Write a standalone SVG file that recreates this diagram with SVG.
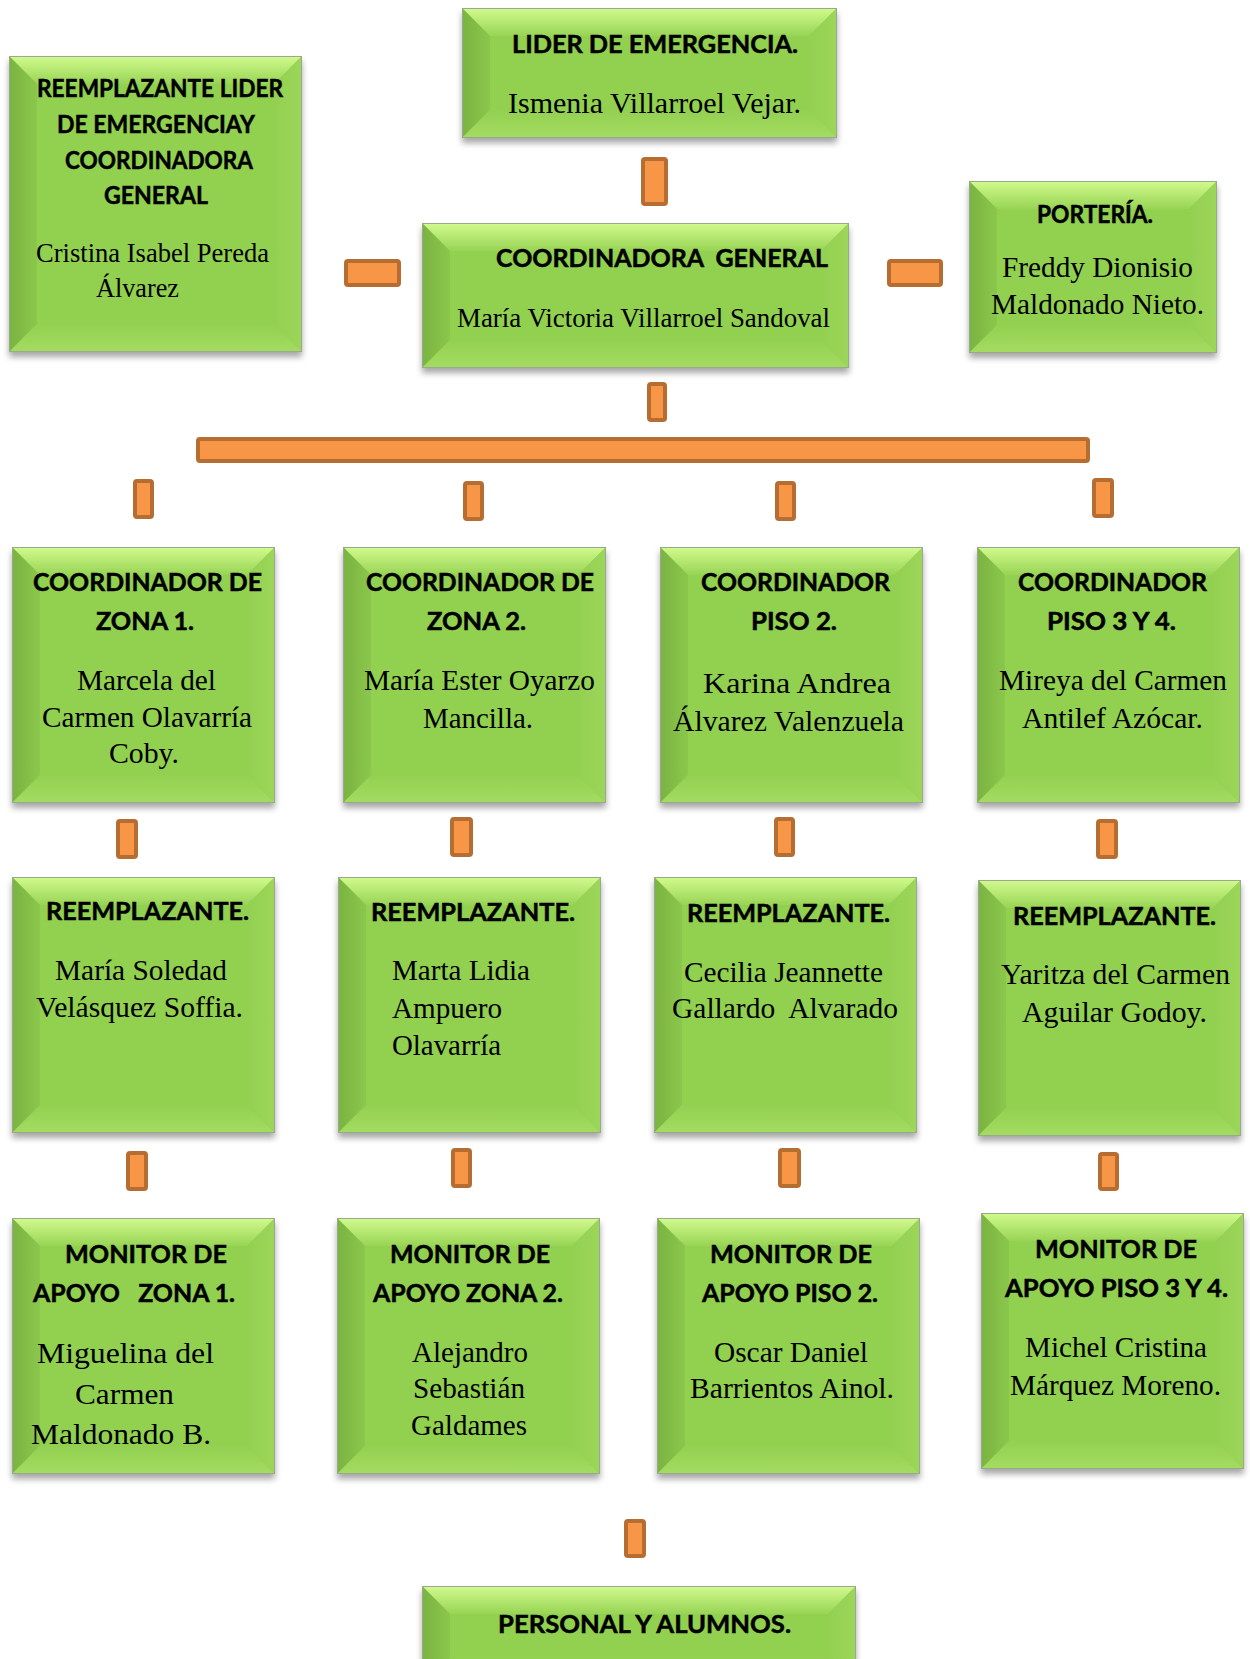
<svg xmlns="http://www.w3.org/2000/svg" xmlns:xlink="http://www.w3.org/1999/xlink" width="1250" height="1659" viewBox="0 0 1250 1659">
<style>
.base{fill:#92D050;}
.bt{fill:url(#gTop);}
.bl{fill:url(#gLeft);}
.bb{fill:url(#gBottom);}
.br{fill:url(#gRight);}
.edge{fill:none;stroke:#9AA890;stroke-width:1;}
.h{font-family:Lato,"Open Sans","Liberation Sans",sans-serif;font-weight:bold;font-size:25.5px;fill:#000;stroke:#000;stroke-width:0.5;}
.n{font-family:"Liberation Serif","Times New Roman",serif;font-size:28.6px;fill:#000;}
.s{font-size:26.5px;}
.l{font-size:30px;}
.c rect{fill:#F79646;stroke:#B66D31;stroke-width:4;}
</style>
<defs>
<linearGradient id="gTop" x1="0" y1="0" x2="0" y2="1"><stop offset="0" stop-color="#D2FB8E"/><stop offset="1" stop-color="#98D455"/></linearGradient>
<linearGradient id="gLeft" x1="0" y1="0" x2="1" y2="0"><stop offset="0" stop-color="#7AB341"/><stop offset="1" stop-color="#8BC74C"/></linearGradient>
<linearGradient id="gBottom" x1="0" y1="0" x2="0" y2="1"><stop offset="0" stop-color="#93D051"/><stop offset="1" stop-color="#A3DC61"/></linearGradient>
<linearGradient id="gRight" x1="0" y1="0" x2="1" y2="0"><stop offset="0" stop-color="#93D051"/><stop offset="1" stop-color="#9CD65A"/></linearGradient>
<filter id="sh" x="-10%" y="-10%" width="120%" height="130%"><feDropShadow dx="0" dy="5" stdDeviation="3" flood-color="#000" flood-opacity="0.35"/></filter>
<g id="boxA">
<rect class="base" width="263" height="256" filter="url(#sh)"/>
<polygon class="bt" points="0,0 263,0 235,28 28,28"/>
<polygon class="bl" points="0,0 28,28 28,228 0,256"/>
<polygon class="bb" points="0,256 28,228 235,228 263,256"/>
<polygon class="br" points="263,0 263,256 235,228 235,28"/>
<rect class="edge" x="0.5" y="0.5" width="262" height="255"/>
</g>
</defs>
<rect width="1250" height="1659" fill="#fff"/>

<g id="connectors" class="c">
<rect x="643" y="159" width="23" height="45" rx="2"/>
<rect x="346" y="261" width="53" height="24" rx="2"/>
<rect x="889" y="261" width="52" height="24" rx="2"/>
<rect x="649" y="384" width="16" height="36" rx="2"/>
<rect x="198" y="439" width="890" height="22" rx="2"/>
<rect x="135" y="481" width="17" height="36" rx="2"/>
<rect x="465" y="483" width="17" height="36" rx="2"/>
<rect x="777" y="483" width="17" height="36" rx="2"/>
<rect x="1094" y="480" width="18" height="36" rx="2"/>
<rect x="118" y="821" width="18" height="36" rx="2"/>
<rect x="452" y="819" width="19" height="36" rx="2"/>
<rect x="776" y="819" width="17" height="36" rx="2"/>
<rect x="1098" y="821" width="18" height="36" rx="2"/>
<rect x="128" y="1153" width="18" height="36" rx="2"/>
<rect x="453" y="1150" width="17" height="36" rx="2"/>
<rect x="780" y="1150" width="19" height="36" rx="2"/>
<rect x="1100" y="1154" width="17" height="35" rx="2"/>
<rect x="626" y="1521" width="18" height="35" rx="2"/>
</g>

<g id="n-reemplazante-lider">
<g transform="translate(9,56)">
<rect class="base" width="293" height="296" filter="url(#sh)"/>
<polygon class="bt" points="0,0 293,0 265,28 28,28"/>
<polygon class="bl" points="0,0 28,28 28,268 0,296"/>
<polygon class="bb" points="0,296 28,268 265,268 293,296"/>
<polygon class="br" points="293,0 293,296 265,268 265,28"/>
<rect class="edge" x="0.5" y="0.5" width="292" height="295"/>
</g>
<text class="h" x="37" y="97" textLength="246" lengthAdjust="spacingAndGlyphs">REEMPLAZANTE LIDER</text>
<text class="h" x="57" y="133" textLength="198" lengthAdjust="spacingAndGlyphs">DE EMERGENCIAY</text>
<text class="h" x="65" y="169" textLength="188" lengthAdjust="spacingAndGlyphs">COORDINADORA</text>
<text class="h" x="104" y="204" textLength="104" lengthAdjust="spacingAndGlyphs">GENERAL</text>
<text class="n s" x="36" y="262" textLength="233" lengthAdjust="spacingAndGlyphs">Cristina Isabel Pereda</text>
<text class="n s" x="96" y="297" textLength="83" lengthAdjust="spacingAndGlyphs">Álvarez</text>
</g>

<g id="n-lider">
<g transform="translate(462,8)">
<rect class="base" width="375" height="130" filter="url(#sh)"/>
<polygon class="bt" points="0,0 375,0 347,28 28,28"/>
<polygon class="bl" points="0,0 28,28 28,102 0,130"/>
<polygon class="bb" points="0,130 28,102 347,102 375,130"/>
<polygon class="br" points="375,0 375,130 347,102 347,28"/>
<rect class="edge" x="0.5" y="0.5" width="374" height="129"/>
</g>
<text class="h" x="512" y="53" textLength="286" lengthAdjust="spacingAndGlyphs">LIDER DE EMERGENCIA.</text>
<text class="n" x="508" y="113" textLength="293" lengthAdjust="spacingAndGlyphs">Ismenia Villarroel Vejar.</text>
</g>

<g id="n-coordinadora-general">
<g transform="translate(422,223)">
<rect class="base" width="427" height="145" filter="url(#sh)"/>
<polygon class="bt" points="0,0 427,0 399,28 28,28"/>
<polygon class="bl" points="0,0 28,28 28,117 0,145"/>
<polygon class="bb" points="0,145 28,117 399,117 427,145"/>
<polygon class="br" points="427,0 427,145 399,117 399,28"/>
<rect class="edge" x="0.5" y="0.5" width="426" height="144"/>
</g>
<text class="h" x="496" y="267" textLength="332" lengthAdjust="spacingAndGlyphs" xml:space="preserve">COORDINADORA  GENERAL</text>
<text class="n s" x="457" y="327" textLength="373" lengthAdjust="spacingAndGlyphs">María Victoria Villarroel Sandoval</text>
</g>

<g id="n-porteria">
<g transform="translate(969,181)">
<rect class="base" width="248" height="172" filter="url(#sh)"/>
<polygon class="bt" points="0,0 248,0 220,28 28,28"/>
<polygon class="bl" points="0,0 28,28 28,144 0,172"/>
<polygon class="bb" points="0,172 28,144 220,144 248,172"/>
<polygon class="br" points="248,0 248,172 220,144 220,28"/>
<rect class="edge" x="0.5" y="0.5" width="247" height="171"/>
</g>
<text class="h" x="1037" y="223" textLength="116" lengthAdjust="spacingAndGlyphs">PORTERÍA.</text>
<text class="n" x="1002" y="277" textLength="191" lengthAdjust="spacingAndGlyphs">Freddy Dionisio</text>
<text class="n" x="991" y="314" textLength="213" lengthAdjust="spacingAndGlyphs">Maldonado Nieto.</text>
</g>

<g id="n-coord-zona1">
<use href="#boxA" x="12" y="547"/>
<text class="h" x="33" y="591" textLength="229" lengthAdjust="spacingAndGlyphs">COORDINADOR DE</text>
<text class="h" x="96" y="630" textLength="98" lengthAdjust="spacingAndGlyphs">ZONA 1.</text>
<text class="n" x="77" y="690" textLength="139" lengthAdjust="spacingAndGlyphs">Marcela del</text>
<text class="n" x="42" y="727" textLength="210" lengthAdjust="spacingAndGlyphs">Carmen Olavarría</text>
<text class="n" x="109" y="763" textLength="70" lengthAdjust="spacingAndGlyphs">Coby.</text>
</g>

<g id="n-coord-zona2">
<use href="#boxA" x="343" y="547"/>
<text class="h" x="366" y="591" textLength="228" lengthAdjust="spacingAndGlyphs">COORDINADOR DE</text>
<text class="h" x="427" y="630" textLength="99" lengthAdjust="spacingAndGlyphs">ZONA 2.</text>
<text class="n" x="364" y="690" textLength="231" lengthAdjust="spacingAndGlyphs">María Ester Oyarzo</text>
<text class="n" x="423" y="728" textLength="110" lengthAdjust="spacingAndGlyphs">Mancilla.</text>
</g>

<g id="n-coord-piso2">
<use href="#boxA" x="660" y="547"/>
<text class="h" x="701" y="591" textLength="189" lengthAdjust="spacingAndGlyphs">COORDINADOR</text>
<text class="h" x="751" y="630" textLength="86" lengthAdjust="spacingAndGlyphs">PISO 2.</text>
<text class="n l" x="703" y="693" textLength="188" lengthAdjust="spacingAndGlyphs">Karina Andrea</text>
<text class="n" x="673" y="731" textLength="231" lengthAdjust="spacingAndGlyphs">Álvarez Valenzuela</text>
</g>

<g id="n-coord-piso34">
<use href="#boxA" x="977" y="547"/>
<text class="h" x="1018" y="591" textLength="189" lengthAdjust="spacingAndGlyphs">COORDINADOR</text>
<text class="h" x="1047" y="630" textLength="129" lengthAdjust="spacingAndGlyphs">PISO 3 Y 4.</text>
<text class="n" x="999" y="690" textLength="228" lengthAdjust="spacingAndGlyphs">Mireya del Carmen</text>
<text class="n" x="1022" y="728" textLength="181" lengthAdjust="spacingAndGlyphs">Antilef Azócar.</text>
</g>

<g id="n-reemp-zona1">
<use href="#boxA" x="12" y="877"/>
<text class="h" x="46" y="920" textLength="203" lengthAdjust="spacingAndGlyphs">REEMPLAZANTE.</text>
<text class="n" x="55" y="980" textLength="172" lengthAdjust="spacingAndGlyphs">María Soledad</text>
<text class="n" x="36" y="1017" textLength="207" lengthAdjust="spacingAndGlyphs">Velásquez Soffia.</text>
</g>

<g id="n-reemp-zona2">
<use href="#boxA" x="338" y="877"/>
<text class="h" x="371" y="921" textLength="204" lengthAdjust="spacingAndGlyphs">REEMPLAZANTE.</text>
<text class="n" x="392" y="980" textLength="138" lengthAdjust="spacingAndGlyphs">Marta Lidia</text>
<text class="n" x="392" y="1018" textLength="110" lengthAdjust="spacingAndGlyphs">Ampuero</text>
<text class="n" x="392" y="1055" textLength="109" lengthAdjust="spacingAndGlyphs">Olavarría</text>
</g>

<g id="n-reemp-piso2">
<use href="#boxA" x="654" y="877"/>
<text class="h" x="687" y="922" textLength="203" lengthAdjust="spacingAndGlyphs">REEMPLAZANTE.</text>
<text class="n" x="684" y="982" textLength="199" lengthAdjust="spacingAndGlyphs">Cecilia Jeannette</text>
<text class="n" x="672" y="1018" textLength="226" lengthAdjust="spacingAndGlyphs" xml:space="preserve">Gallardo  Alvarado</text>
</g>

<g id="n-reemp-piso34">
<use href="#boxA" x="978" y="880"/>
<text class="h" x="1013" y="925" textLength="203" lengthAdjust="spacingAndGlyphs">REEMPLAZANTE.</text>
<text class="n" x="1001" y="984" textLength="229" lengthAdjust="spacingAndGlyphs">Yaritza del Carmen</text>
<text class="n" x="1022" y="1022" textLength="185" lengthAdjust="spacingAndGlyphs">Aguilar Godoy.</text>
</g>

<g id="n-monitor-zona1">
<use href="#boxA" x="12" y="1218"/>
<text class="h" x="65" y="1263" textLength="162" lengthAdjust="spacingAndGlyphs">MONITOR DE</text>
<text class="h" x="33" y="1302" textLength="202" lengthAdjust="spacingAndGlyphs" xml:space="preserve">APOYO   ZONA 1.</text>
<text class="n l" x="37" y="1363" textLength="177" lengthAdjust="spacingAndGlyphs">Miguelina del</text>
<text class="n l" x="75" y="1404" textLength="99" lengthAdjust="spacingAndGlyphs">Carmen</text>
<text class="n l" x="31" y="1444" textLength="180" lengthAdjust="spacingAndGlyphs">Maldonado B.</text>
</g>

<g id="n-monitor-zona2">
<use href="#boxA" x="337" y="1218"/>
<text class="h" x="390" y="1263" textLength="160" lengthAdjust="spacingAndGlyphs">MONITOR DE</text>
<text class="h" x="373" y="1302" textLength="190" lengthAdjust="spacingAndGlyphs">APOYO ZONA 2.</text>
<text class="n" x="412" y="1362" textLength="116" lengthAdjust="spacingAndGlyphs">Alejandro</text>
<text class="n" x="413" y="1398" textLength="112" lengthAdjust="spacingAndGlyphs">Sebastián</text>
<text class="n" x="411" y="1435" textLength="116" lengthAdjust="spacingAndGlyphs">Galdames</text>
</g>

<g id="n-monitor-piso2">
<use href="#boxA" x="657" y="1218"/>
<text class="h" x="710" y="1263" textLength="162" lengthAdjust="spacingAndGlyphs">MONITOR DE</text>
<text class="h" x="702" y="1302" textLength="176" lengthAdjust="spacingAndGlyphs">APOYO PISO 2.</text>
<text class="n" x="714" y="1362" textLength="154" lengthAdjust="spacingAndGlyphs">Oscar Daniel</text>
<text class="n" x="690" y="1398" textLength="204" lengthAdjust="spacingAndGlyphs">Barrientos Ainol.</text>
</g>

<g id="n-monitor-piso34">
<use href="#boxA" x="981" y="1213"/>
<text class="h" x="1035" y="1258" textLength="162" lengthAdjust="spacingAndGlyphs">MONITOR DE</text>
<text class="h" x="1005" y="1297" textLength="223" lengthAdjust="spacingAndGlyphs">APOYO PISO 3 Y 4.</text>
<text class="n" x="1025" y="1357" textLength="182" lengthAdjust="spacingAndGlyphs">Michel Cristina</text>
<text class="n" x="1010" y="1395" textLength="211" lengthAdjust="spacingAndGlyphs">Márquez Moreno.</text>
</g>

<g id="n-personal">
<g transform="translate(422,1586)">
<rect class="base" width="434" height="100" filter="url(#sh)"/>
<polygon class="bt" points="0,0 434,0 406,28 28,28"/>
<polygon class="bl" points="0,0 28,28 28,72 0,100"/>
<polygon class="bb" points="0,100 28,72 406,72 434,100"/>
<polygon class="br" points="434,0 434,100 406,72 406,28"/>
<rect class="edge" x="0.5" y="0.5" width="433" height="99"/>
</g>
<text class="h" x="498" y="1633" textLength="293" lengthAdjust="spacingAndGlyphs">PERSONAL Y ALUMNOS.</text>
</g>
</svg>
